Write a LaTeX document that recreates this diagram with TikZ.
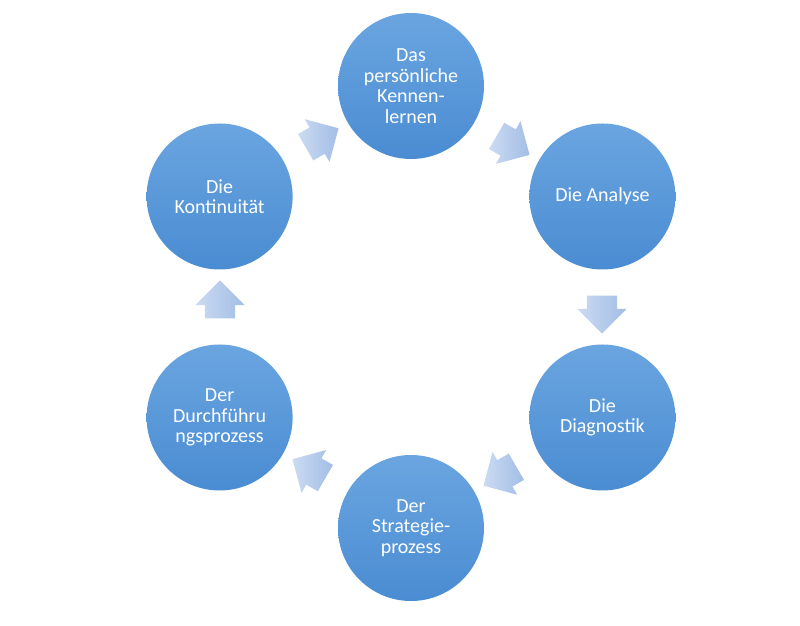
\documentclass[tikz,border=0pt]{standalone}
\usepackage{fontspec}
\setmainfont{Carlito}
\usetikzlibrary{shapes.arrows, positioning}
\definecolor{steptop}{RGB}{106, 165, 224}
\definecolor{stepbottom}{RGB}{74, 140, 210}
\definecolor{flowtail}{RGB}{204, 219, 242}
\definecolor{flowhead}{RGB}{162, 189, 229}
\tikzset{
    stepcircle/.style={circle, minimum size=146pt, inner sep=0pt, top color=steptop, bottom color=stepbottom, text=white, align=center, font=\fontsize{20}{20.5}\selectfont},
    flowarrow/.style={single arrow, minimum height=38pt, inner xsep=0pt, inner ysep=15pt, single arrow head extend=9.5pt, left color=flowtail, right color=flowhead, rotate=#1},
}

\begin{document}
\begin{tikzpicture}[x=1pt, y=1pt]
    \useasboundingbox (0,0) rectangle (800,626);
    \coordinate (mid) at (411,319);

    % Steps of the cycle
    \node[stepcircle] (kennen) at ([shift={(90:221)}]mid) {Das\\pers\"onliche\\Kennen-\\lernen};
    \node[stepcircle] (analyse) at ([shift={(30:221)}]mid) {Die Analyse};
    \node[stepcircle] (diagnostik) at ([shift={(-30:221)}]mid) {Die\\Diagnostik};
    \node[stepcircle] (strategie) at ([shift={(-90:221)}]mid) {Der\\Strategie-\\prozess};
    \node[stepcircle] (durchfuehrung) at ([shift={(-150:221)}]mid) {Der\\Durchf\"uhru\\ngsprozess};
    \node[stepcircle] (kontinuitaet) at ([shift={(150:221)}]mid) {Die\\Kontinuit\"at};

    % Arrows between the steps
    \node[flowarrow=-30] (a1) at ([shift={(60:191)}]mid) {};
    \node[flowarrow=-90] (a2) at ([shift={(0:191)}]mid) {};
    \node[flowarrow=-150] (a3) at ([shift={(-60:191)}]mid) {};
    \node[flowarrow=150] (a4) at ([shift={(-120:191)}]mid) {};
    \node[flowarrow=90] (a5) at ([shift={(180:191)}]mid) {};
    \node[flowarrow=30] (a6) at ([shift={(120:191)}]mid) {};
\end{tikzpicture}
\end{document}
